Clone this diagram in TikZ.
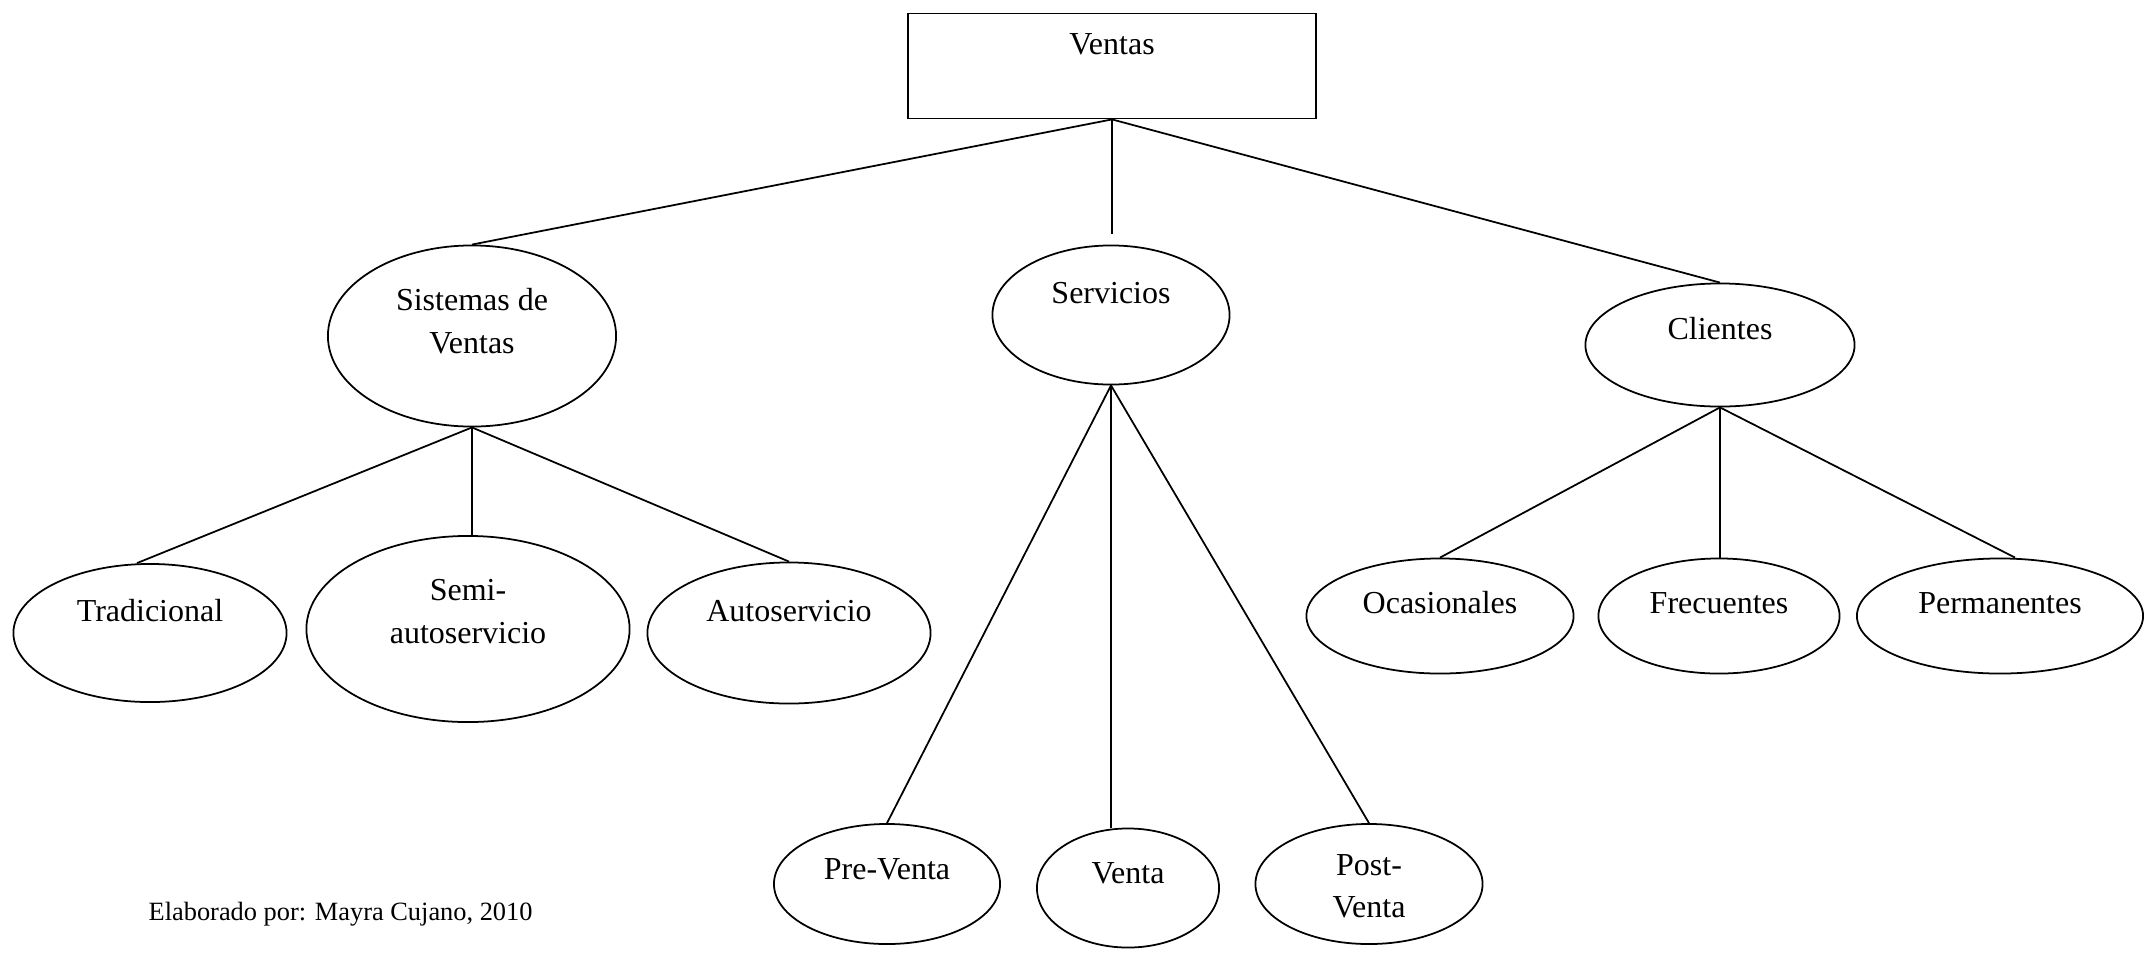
\documentclass[tikz,border=0pt]{standalone}
\usepackage{fontspec}
\setmainfont{Liberation Serif}
\usetikzlibrary{shapes.geometric}

\begin{document}
\begin{tikzpicture}[x=0.01cm, y=-0.01cm]
    % styles
    \tikzset{
      box/.style    = {draw, rectangle, line width=0.5pt, inner sep=0pt, align=center,
                       font=\fontsize{9.1}{12.2}\selectfont, text height=6.5pt},
      oval/.style   = {draw, ellipse, line width=0.5pt, inner sep=0pt, align=center,
                       font=\fontsize{9.1}{12.2}\selectfont, text height=6.5pt},
      lift/.style   = {text depth=#1},
      twoline/.style = {text height=18.7pt},
      link/.style   = {line width=0.5pt, draw=black},
      credit/.style = {font=\fontsize{7.5}{9}\selectfont, anchor=base west, inner sep=0pt}
    }
    \useasboundingbox (0,0) rectangle (2145,954);

    % Root:
    \node[box, lift=13pt, minimum width=4.08cm, minimum height=1.05cm] (ventas) at (1112,66) {Ventas};

    % Second level:
    \node[oval, twoline, lift=8.7pt, minimum width=2.88cm, minimum height=1.81cm] (sis) at (472,336) {Sistemas de\\Ventas};
    \node[oval, lift=13.3pt, minimum width=2.37cm, minimum height=1.39cm] (ser) at (1111,315) {Servicios};
    \node[oval, lift=9.6pt, minimum width=2.69cm, minimum height=1.23cm] (cli) at (1720,345) {Clientes};

    % Sistemas de Ventas:
    \node[oval, lift=12.8pt, minimum width=2.73cm, minimum height=1.38cm] (tra) at (150,633) {Tradicional};
    \node[oval, twoline, lift=10.7pt, minimum width=3.23cm, minimum height=1.86cm] (semi) at (468,629) {Semi-\\autoservicio};
    \node[oval, lift=13pt, minimum width=2.83cm, minimum height=1.41cm] (auto) at (789,633) {Autoservicio};

    % Clientes:
    \node[oval, lift=8.2pt, minimum width=2.67cm, minimum height=1.15cm] (oca) at (1440,616) {Ocasionales};
    \node[oval, lift=8.2pt, minimum width=2.41cm, minimum height=1.15cm] (fre) at (1719,616) {Frecuentes};
    \node[oval, lift=8.2pt, minimum width=2.86cm, minimum height=1.15cm] (per) at (2000,616) {Permanentes};

    % Servicios:
    \node[oval, lift=8.8pt, minimum width=2.26cm, minimum height=1.20cm] (pre) at (887,884) {Pre-Venta};
    \node[oval, lift=9.3pt, minimum width=1.82cm, minimum height=1.19cm] (venta) at (1128,888) {Venta};
    \node[oval, text height=21pt, lift=1.7pt, minimum width=2.27cm, minimum height=1.20cm] (post) at (1369,884) {Post-\\Venta};

    % Connectors:
    \draw[link] (ventas.south) -- (sis.north);
    \draw[link, shorten >=0.11cm] (ventas.south) -- (ventas.south |- ser.north);
    \draw[link] (ventas.south) -- (cli.north);

    \draw[link] (sis.south) -- ([xshift=-0.13cm]tra.north);
    \draw[link] (sis.south) -- (sis.south |- semi.north);
    \draw[link] (sis.south) -- (auto.north);

    \draw[link] (cli.south) -- (oca.north);
    \draw[link] (cli.south) -- (cli.south |- fre.north);
    \draw[link] (cli.south) -- ([xshift=0.15cm]per.north);

    \draw[link] (ser.south) -- (pre.north);
    \draw[link] (ser.south) -- (ser.south |- venta.north);
    \draw[link] (ser.south) -- (post.north);

    \node[credit] (autor) at (148,920) {Elaborado por: Mayra Cujano, 2010};
\end{tikzpicture}
\end{document}
